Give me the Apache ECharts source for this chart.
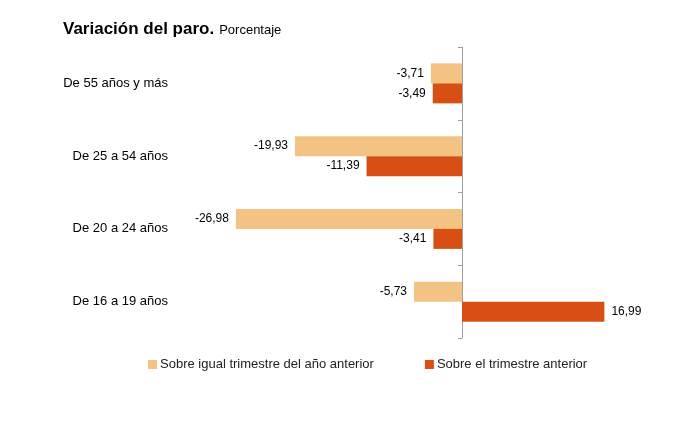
<!DOCTYPE html>
<html><head><meta charset="utf-8">
<script src="https://cdn.jsdelivr.net/npm/echarts@6/dist/echarts.min.js"></script>
<style>html,body{margin:0;padding:0;background:#fff}#c{width:674px;height:439px}</style>
</head><body><div id="c"></div>
<script>
const categories = ["De 55 años y más", "De 25 a 54 años", "De 20 a 24 años", "De 16 a 19 años"];
const seriesNames = ["Sobre igual trimestre del año anterior", "Sobre el trimestre anterior"];
const yearOnYear = [-3.71, -19.93, -26.98, -5.73];
const quarterOnQuarter = [-3.49, -11.39, -3.41, 16.99];

const fmt = v => v.toFixed(2).replace('.', ',');
const mk = arr => arr.map(v => ({value: v, label: {position: v < 0 ? 'left' : 'right'}}));

const chart = echarts.init(document.getElementById('c'));
chart.setOption({
  animation: false,
  textStyle: {fontFamily: 'Liberation Sans, Arial, sans-serif'},
  title: {
    left: 58, top: 15,
    text: '{b|Variación del paro.} {n|Porcentaje}',
    textStyle: {fontWeight: 'normal', rich: {
      b: {fontSize: 17, fontWeight: 'bold', color: '#000', fontFamily: 'Liberation Sans'},
      n: {fontSize: 13, fontWeight: 'normal', color: '#000', fontFamily: 'Liberation Sans', padding: [2,0,0,0]}
    }}
  },
  legend: {
    left: 143, top: 353, itemWidth: 9, itemHeight: 9, itemGap: 51, icon: 'rect',
    textStyle: {fontSize: 13, color: '#222', padding: [0,0,0,-2]},
    data: seriesNames
  },
  grid: {left: 210.6, right: 44.4, top: 47, bottom: 101, containLabel: false, outerBoundsMode: 'none'},
  xAxis: {type: 'value', min: -30, max: 20, show: false},
  yAxis: [{
    type: 'category', inverse: true, data: categories,
    axisLine: {show: true, onZero: true, lineStyle: {color: '#a0a0a0', width: 1}},
    axisTick: {show: true, length: 4, lineStyle: {color: '#a0a0a0'}},
    axisLabel: {show: false},
    splitLine: {show: false}
  }, {
    type: 'category', inverse: true, data: categories, position: 'left',
    axisLine: {show: false, onZero: false},
    axisTick: {show: false},
    axisLabel: {margin: 42.6, fontSize: 13, color: '#000', padding: [4, 0, 0, 0]},
    splitLine: {show: false}
  }],
  series: [
    {name: seriesNames[0], type: 'bar', data: mk(yearOnYear), barWidth: 20, barGap: '0%',
     itemStyle: {color: '#F4C384'},
     label: {show: true, distance: 7, fontSize: 12, color: '#000', padding: [3, 0, 0, 0], formatter: p => fmt(p.value)}},
    {name: seriesNames[1], type: 'bar', data: mk(quarterOnQuarter), barWidth: 20, barGap: '0%',
     itemStyle: {color: '#D74F12'},
     label: {show: true, distance: 7, fontSize: 12, color: '#000', padding: [3, 0, 0, 0], formatter: p => fmt(p.value)}}
  ]
});
</script></body></html>
